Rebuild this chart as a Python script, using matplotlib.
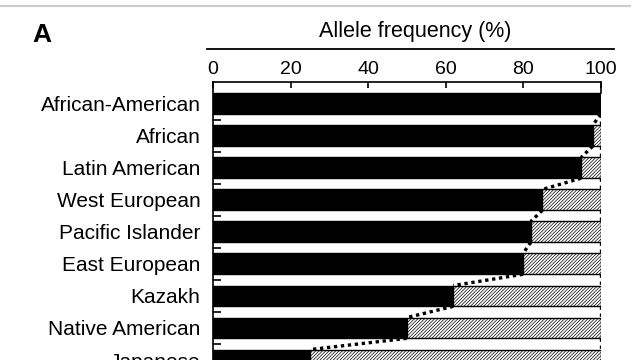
import matplotlib
matplotlib.use("Agg")
import matplotlib.pyplot as plt
from matplotlib.lines import Line2D

plt.rcParams['font.family'] = ['Liberation Sans', 'DejaVu Sans']
plt.rcParams['hatch.linewidth'] = 0.5

populations = ["African-American", "African", "Latin American", "West European",
               "Pacific Islander", "East European", "Kazakh", "Native American", "Japanese"]
allele_freq = [100, 98, 95, 85, 82, 80, 62, 50, 25]
xticks = [0, 20, 40, 60, 80, 100]

W, H = 640, 360
fig = plt.figure(figsize=(6.4, 3.6), dpi=100)
ax = fig.add_axes([213 / W, 0, (600.5 - 213) / W, 1 - 82 / H])

n = len(populations)
ypos = list(range(n))
bh = 0.65
rest = [100 - v for v in allele_freq]

ax.barh(ypos, allele_freq, height=bh, color='black', edgecolor='black', linewidth=1)
ax.barh(ypos, rest, left=allele_freq, height=bh, color='white', edgecolor='black',
        linewidth=1, hatch='//////////')

# dotted connectors
for i in range(n - 1):
    ax.plot([allele_freq[i], allele_freq[i + 1]], [i + bh / 2, i + 1 - bh / 2],
            color='black', linestyle=(0, (1, 1.1)), linewidth=2.4)
    ax.plot([100, 100], [i + bh / 2, i + 1 - bh / 2],
            color='black', linestyle=(0, (1, 1.1)), linewidth=2.4)

top = -22 / 32.4
bottom = (360 - 104) / 32.4
ax.plot([100, 100], [top, -bh / 2], color='black', linewidth=1.2, clip_on=False)

ax.set_xlim(0, 100)
ax.set_ylim(bottom, top)

ax.spines['right'].set_visible(False)
ax.spines['bottom'].set_visible(False)
ax.spines['top'].set_linewidth(1.2)
ax.spines['left'].set_linewidth(1.2)

ax.xaxis.tick_top()
ax.set_xticks(xticks)
ax.set_xticklabels([str(t) for t in xticks], fontsize=14)
ax.tick_params(axis='x', direction='in', length=4, width=1.2, pad=3)

ax.set_yticks(ypos)
ax.set_yticklabels(populations, fontsize=15)
ax.tick_params(axis='y', which='major', length=0, pad=9)
ax.set_yticks([i + 0.5 for i in range(n - 1)], minor=True)
ax.tick_params(axis='y', which='minor', direction='in', length=6, width=1.2)

# decorations in figure pixel coords
def fx(x):
    return x / W

def fy(y):
    return 1 - y / H

fig.add_artist(Line2D([fx(207), fx(614)], [fy(49), fy(49)], color='black', linewidth=1.3))
fig.add_artist(Line2D([0, fx(630)], [fy(6), fy(6)], color='#cccccc', linewidth=1.5))
fig.text(fx(415), fy(32), "Allele frequency (%)", fontsize=15.5, ha='center', va='center')
fig.text(fx(41.5), fy(35.5), "A", fontsize=19, fontweight='bold', ha='center', va='center')

fig.savefig("out.png", dpi=100)
